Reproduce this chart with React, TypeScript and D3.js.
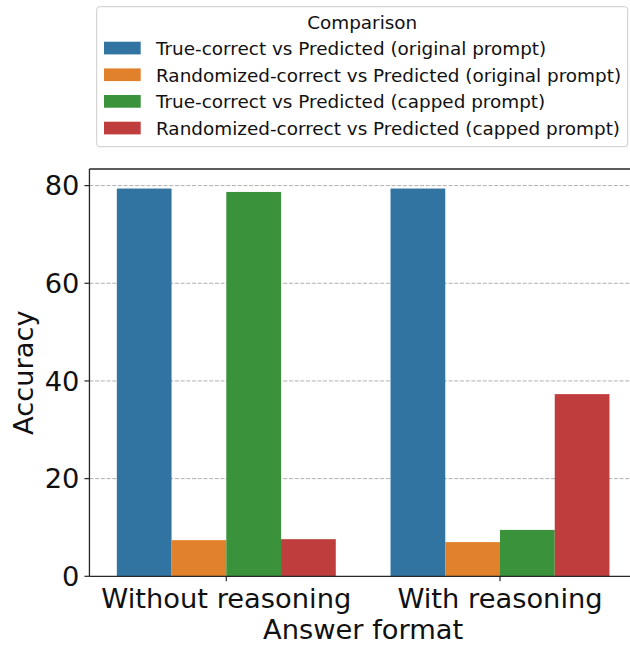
import React from "react";
import * as d3 from "d3";

const categories = ["Without reasoning", "With reasoning"];
const series = [
  "True-correct vs Predicted (original prompt)",
  "Randomized-correct vs Predicted (original prompt)",
  "True-correct vs Predicted (capped prompt)",
  "Randomized-correct vs Predicted (capped prompt)",
];
const trueOriginal = [79.4, 79.4];
const randOriginal = [7.4, 7.0];
const trueCapped = [78.7, 9.5];
const randCapped = [7.6, 37.3];
const seriesValues = [trueOriginal, randOriginal, trueCapped, randCapped];
const colors = ["#3274a1", "#e1812c", "#3a923a", "#c03d3e"];
const yTicks = [0, 20, 40, 60, 80];

const W = 630;
const H = 645;
const left = 89.45;
const top = 169;
const bottom = 576.3;
const band = 273.7;
const FONT = "DejaVu Sans, sans-serif";

export default function App() {
  const x = d3
    .scaleBand<string>()
    .domain(categories)
    .range([left, left + band * categories.length])
    .paddingInner(0)
    .paddingOuter(0);
  const y = d3.scaleLinear().domain([0, 83.4]).range([bottom, top]);
  const bw = x.bandwidth();
  const axisCenter = left + (band * categories.length) / 2;

  const inner = (cat: string) => {
    const c = (x(cat) as number) + bw / 2;
    return d3
      .scaleBand<string>()
      .domain(series)
      .range([c - 0.4 * bw, c + 0.4 * bw])
      .padding(0);
  };

  const legendX = 96.7;
  const legendY = 6.7;
  const legendW = 531;
  const legendH = 140;
  const rowBase = [55, 81.7, 108.3, 135];

  return (
    <>
      <style>{`body{margin:0}`}</style>
      <svg width={W} height={H} style={{ display: "block", overflow: "hidden" }} fontFamily={FONT}>
        <rect x={0} y={0} width={W} height={H} fill="#ffffff" />
        {/* grid */}
        {yTicks
          .filter((t) => t > 0)
          .map((t) => (
            <line
              key={"g" + t}
              x1={left}
              x2={W + 10}
              y1={y(t)}
              y2={y(t)}
              stroke="#b0b0b0"
              strokeWidth={1}
              strokeDasharray="4,1.7"
            />
          ))}
        {/* bars */}
        {categories.map((cat, ci) => {
          const xi = inner(cat);
          return series.map((s, si) => {
            const v = seriesValues[si][ci];
            return (
              <rect
                key={cat + s}
                x={xi(s) as number}
                y={y(v)}
                width={xi.bandwidth()}
                height={y(0) - y(v)}
                fill={colors[si]}
              />
            );
          });
        })}
        {/* spines */}
        <line x1={left} x2={W + 10} y1={top} y2={top} stroke="#262626" strokeWidth={1.3} />
        <line x1={left} x2={W + 10} y1={bottom} y2={bottom} stroke="#262626" strokeWidth={1.3} />
        <line x1={left} x2={left} y1={top} y2={bottom} stroke="#262626" strokeWidth={1.3} />
        {/* y ticks */}
        {yTicks.map((t) => (
          <g key={"yt" + t}>
            <line x1={left - 5} x2={left} y1={y(t)} y2={y(t)} stroke="#262626" strokeWidth={1.2} />
            <text
              x={left - 10}
              y={y(t)}
              dy="0.36em"
              textAnchor="end"
              fontSize={27.3}
              fill="#111"
            >
              {t}
            </text>
          </g>
        ))}
        {/* x ticks */}
        {categories.map((cat) => {
          const c = (x(cat) as number) + bw / 2;
          return (
            <g key={"xt" + cat}>
              <line x1={c} x2={c} y1={bottom} y2={bottom + 5} stroke="#262626" strokeWidth={1.2} />
              <text x={c} y={608} textAnchor="middle" fontSize={27.3} fill="#111">
                {cat}
              </text>
            </g>
          );
        })}
        {/* axis labels */}
        <text x={axisCenter} y={638.5} textAnchor="middle" fontSize={27.3} fill="#111">
          Answer format
        </text>
        <text
          transform={`translate(33, ${(top + bottom) / 2}) rotate(-90)`}
          textAnchor="middle"
          fontSize={27.3}
          fill="#111"
        >
          Accuracy
        </text>
        {/* legend */}
        <rect
          x={legendX}
          y={legendY}
          width={legendW}
          height={legendH}
          rx={3}
          ry={3}
          fill="#ffffff"
          fillOpacity={0.8}
          stroke="#cccccc"
          strokeWidth={1}
        />
        <text x={legendX + legendW / 2} y={28.7} textAnchor="middle" fontSize={18.4} fill="#111">
          Comparison
        </text>
        {series.map((s, i) => (
          <g key={"lg" + s}>
            <rect x={104} y={rowBase[i] - 13.3} width={36.7} height={12.7} fill={colors[i]} />
            <text x={156} y={rowBase[i]} fontSize={18.4} fill="#111">
              {s}
            </text>
          </g>
        ))}
      </svg>
    </>
  );
}
